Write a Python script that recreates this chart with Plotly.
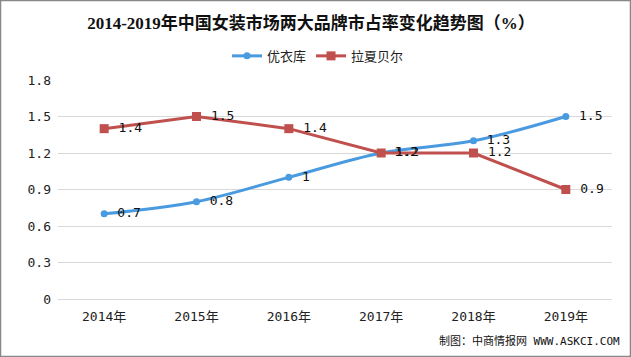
import plotly.graph_objects as go

years = ["2014年", "2015年", "2016年", "2017年", "2018年", "2019年"]
uniqlo = [0.7, 0.8, 1.0, 1.2, 1.3, 1.5]
zara = [1.4, 1.5, 1.4, 1.2, 1.2, 0.9]
uniqlo_labels = ["0.7", "0.8", "1", "1.2", "1.3", "1.5"]
zara_labels = ["1.4", "1.5", "1.4", "1.2", "1.2", "0.9"]
y_ticks = [0, 0.3, 0.6, 0.9, 1.2, 1.5, 1.8]
y_tick_text = ["0", "0.3", "0.6", "0.9", "1.2", "1.5", "1.8"]

label_font = dict(family="DejaVu Sans Mono, monospace", size=13, color="#111111")

fig = go.Figure()
fig.add_trace(go.Scatter(
    x=years, y=uniqlo, name="优衣库", mode="lines+markers+text",
    line=dict(color="#4a9ae0", width=3, shape="spline"),
    marker=dict(symbol="circle", size=7, color="#4a9ae0"),
    text=[" " + t for t in uniqlo_labels], textposition="middle right", textfont=label_font,
))
fig.add_trace(go.Scatter(
    x=years, y=zara, name="拉夏贝尔", mode="lines+markers+text",
    line=dict(color="#c0504d", width=3),
    marker=dict(symbol="square", size=9, color="#c0504d"),
    text=[" " + t for t in zara_labels], textposition="middle right", textfont=label_font,
))

fig.update_layout(
    width=631, height=357,
    margin=dict(l=58, r=19, t=80, b=58),
    paper_bgcolor="white", plot_bgcolor="white",
    title=dict(text="<b>2014-2019年中国女装市场两大品牌市占率变化趋势图（%）</b>",
               x=311 / 631, xanchor="center", y=1 - 23 / 357, yanchor="middle",
               font=dict(family="Liberation Serif, Noto Sans CJK SC", size=17, color="#111111")),
    legend=dict(orientation="h", x=(318 - 58) / 554, xanchor="center", y=1.11, yanchor="middle",
                font=dict(family="Noto Sans CJK SC", size=13, color="#222222"),
                bgcolor="rgba(0,0,0,0)"),
    showlegend=True,
    font=dict(family="Noto Sans CJK SC", size=13, color="#222222"),
)
fig.update_xaxes(range=[-0.5, 5.5], showgrid=False, showline=False, ticks="",
                 tickfont=dict(family="DejaVu Sans Mono, Noto Sans CJK SC", size=13, color="#222222"),
                 ticklabelstandoff=8)
fig.update_yaxes(range=[0, 1.8], tickvals=y_ticks, ticktext=y_tick_text,
                 showgrid=True, gridcolor="#d9d9d9", gridwidth=1,
                 zeroline=True, zerolinecolor="#d9d9d9", zerolinewidth=1,
                 showline=False, ticks="",
                 tickfont=dict(family="DejaVu Sans Mono, monospace", size=13, color="#222222"),
                 ticklabelstandoff=6)

fig.add_annotation(text="制图：中商情报网 WWW.ASKCI.COM", xref="paper", yref="paper",
                   x=1.0 + 10 / 554, xanchor="right", y=-(341 - 299) / 219, yanchor="middle",
                   showarrow=False,
                   font=dict(family="DejaVu Sans Mono, Noto Sans CJK SC", size=11, color="#111111"))
fig.add_shape(type="rect", xref="paper", yref="paper",
              x0=-57.5 / 554, x1=1 + 18.5 / 554, y0=-57.5 / 219, y1=1 + 79.5 / 219,
              line=dict(color="#888888", width=1.5), layer="below")

fig.write_html("out.html", config={"displayModeBar": False},
               post_script="document.body.style.margin='0';")
